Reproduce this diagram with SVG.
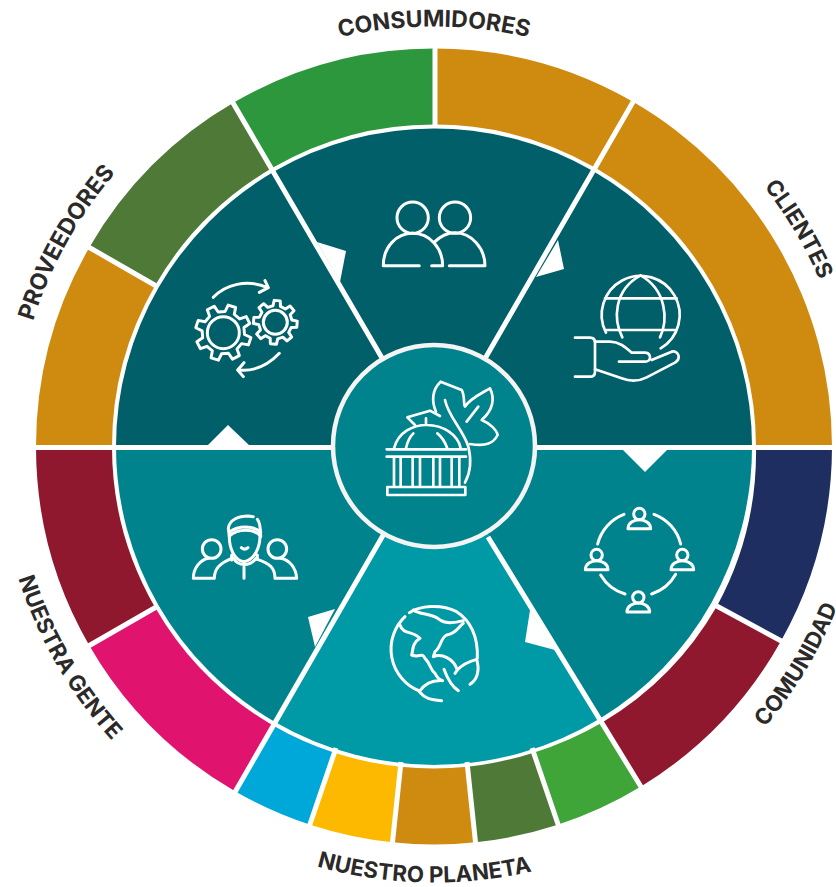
<svg xmlns="http://www.w3.org/2000/svg" width="836" height="887" viewBox="0 0 836 887">
<style>
.ic{fill:none;stroke:#fff;stroke-linecap:round;stroke-linejoin:round}
.sep{stroke:#fff;stroke-width:5;fill:none}
.lb{font-family:"Inter","Liberation Sans",sans-serif;font-weight:700;font-size:23px;fill:#2b2a29;text-anchor:middle}
.sm{font-size:22.3px}
</style>
<defs>
<path id="arcTop" d="M193.1 102.5A420 420 0 0 1 674.9 102.5"/>
<path id="arcBot" d="M183.9 803.6A436 436 0 0 0 684.1 803.6"/>
<path id="gear" d="M.74-.171L.99-.139L.99.139L.74.171L.644.402L.798.602L.602.798L.402.644L.171.74L.139.99L-.139.99L-.171.74L-.402.644L-.602.798L-.798.602L-.644.402L-.74.171L-.99.139L-.99-.139L-.74-.171L-.644-.402L-.798-.602L-.602-.798L-.402-.644L-.171-.74L-.139-.99L.139-.99L.171-.74L.402-.644L.602-.798L.798-.602L.644-.402Z"/>
<g id="person"><circle cx="0" cy="0" r="17"/><path d="M-34 44C-34 26-16 17 0 17C16 17 34 26 34 44Z"/></g>
</defs>
<rect width="836" height="887" fill="#fff"/>
<g id="ring">
<path fill="#2c973c" d="M235 101.8A398 398 0 0 1 435 48.5L435 124.5A322 322 0 0 0 273 167.6Z"/>
<path fill="#cf8a10" d="M435 48.5A398 398 0 0 1 633 101.8L595 167.6A322 322 0 0 0 435 124.5Z"/>
<path fill="#cf8a10" d="M633 101.8A398 398 0 0 1 832 446.5L756 446.5A322 322 0 0 0 595 167.6Z"/>
<path fill="#1f2e60" d="M832 446.5A398 398 0 0 1 781 641L717 606A322 322 0 0 0 756 446.5Z"/>
<path fill="#8f182f" d="M781 641A398 398 0 0 1 641 786.5L603 722A322 322 0 0 0 717 606Z"/>
<path fill="#40a539" d="M641 786.5A398 398 0 0 1 557 825L533.5 752.7A322 322 0 0 0 603 722Z"/>
<path fill="#4f7937" d="M557 825A398 398 0 0 1 475.6 842.3L467.7 766.7A322 322 0 0 0 533.5 752.7Z"/>
<path fill="#cf8a10" d="M475.6 842.3A398 398 0 0 1 392.4 842.3L400.3 766.7A322 322 0 0 0 467.7 766.7Z"/>
<path fill="#fdb900" d="M392.4 842.3A398 398 0 0 1 311 825L334.5 752.7A322 322 0 0 0 400.3 766.7Z"/>
<path fill="#00a7d9" d="M311 825A398 398 0 0 1 235 791.2L273 725.4A322 322 0 0 0 334.5 752.7Z"/>
<path fill="#e0146e" d="M235 791.2A398 398 0 0 1 89.3 645.5L155.1 607.5A322 322 0 0 0 273 725.4Z"/>
<path fill="#8f182f" d="M89.3 645.5A398 398 0 0 1 36 446.5L112 446.5A322 322 0 0 0 155.1 607.5Z"/>
<path fill="#cf8a10" d="M36 446.5A398 398 0 0 1 89.3 247.5L155.1 285.5A322 322 0 0 0 112 446.5Z"/>
<path fill="#4f7937" d="M89.3 247.5A398 398 0 0 1 235 101.8L273 167.6A322 322 0 0 0 155.1 285.5Z"/>
</g>
<g id="sector-consumidores"><path fill="#005f68" d="M434 446.5L275 171.1A318 318 0 0 1 593 171.1Z"/></g>
<g id="sector-clientes"><path fill="#005f68" d="M434 446.5L593 171.1A318 318 0 0 1 752 446.5Z"/></g>
<g id="sector-comunidad"><path fill="#00838c" d="M434 446.5L752 446.5A318 318 0 0 1 600 718.5Z"/></g>
<g id="sector-planeta"><path fill="#0099a6" d="M434 446.5L600 718.5A318 318 0 0 1 275 721.9Z"/></g>
<g id="sector-gente"><path fill="#00838c" d="M434 446.5L275 721.9A318 318 0 0 1 116 446.5Z"/></g>
<g id="sector-proveedores"><path fill="#005f68" d="M434 446.5L116 446.5A318 318 0 0 1 275 171.1Z"/></g>
<g id="connectors">
<path class="sep" d="M30 447.5H840"/>
<path class="sep" d="M434 447L231 99.5M434 447L635 98.5M434 447L233 795.5M488 537L643 790"/>
<path class="sep" d="M435 45V126"/>
<path class="sep" d="M785 643L713 604M85 648L158 606M85 245L158 287M560 830L532 748M476 847L467 762M392 847L401 762M308 830L336 748"/>
<path fill="#fff" d="M317 242L346 251L340 282Z"/>
<path fill="#fff" d="M558 240L564 269L536 277Z"/>
<path fill="#fff" d="M207 446L228 425L250 446Z"/>
<path fill="#fff" d="M622 449L645 472L668 449Z"/>
<path fill="#fff" d="M308 617L335 609L315 647Z"/>
<path fill="#fff" d="M530 610L525 642L555 650Z"/>
</g>
<g id="center">
<circle cx="434" cy="446" r="101" fill="#00838c" stroke="#f4f4f4" stroke-width="4.5"/>
<g class="ic" transform="translate(330 340) scale(.3333)" stroke-width="8">
<path d="M170 328H408M170 350H408"/>
<rect x="172" y="441" width="234" height="24"/>
<path d="M192 352V440M212 352V440M248 352V440M270 352V440M310 352V440M330 352V440M365 352V440M388 352V440"/>
<path d="M192 325C205 275 250 255 290 255C340 255 385 285 392 325M228 325C232 305 240 290 250 280M352 325C345 305 335 290 322 280M288 255V235"/>
<path d="M255 255L232 232L300 212L330 228"/>
<path d="M318 215C305 185 305 150 332 125L395 150C405 165 400 195 405 200C420 175 455 160 480 145C495 175 490 210 455 240C480 250 500 270 503 285C490 310 470 320 420 312"/>
<path d="M345 180C355 230 400 270 415 320C425 360 420 400 405 428M410 245L445 200"/>
</g>
</g>
<g id="icon-consumidores" class="ic" transform="translate(170 180) scale(.3333)" stroke-width="9">
<circle cx="728" cy="113" r="47"/><circle cx="855" cy="113" r="47"/>
<path d="M748 257H640C640 200 680 160 728 160C780 160 818 205 818 257H785"/>
<path d="M795 185C815 165 835 158 855 158C905 158 945 205 945 257H838"/>
</g>
<g id="icon-proveedores" class="ic" transform="translate(170 180) scale(.3333)" stroke-width="9">
<circle cx="160" cy="458" r="48"/><circle cx="316" cy="427" r="36"/>
<use href="#gear" transform="translate(160 458) rotate(18) scale(84)" stroke-width=".105"/>
<use href="#gear" transform="translate(316 427) rotate(5) scale(66)" stroke-width=".135"/>
<path d="M130 352C165 315 230 295 293 323M285 302L295 323L268 337"/>
<path d="M328 520C290 560 250 575 205 570M222 548L203 570L220 590"/>
</g>
<g id="icon-clientes" class="ic" transform="translate(550 260) scale(.3333)" stroke-width="8">
<path d="M168 218A117 117 0 1 1 332 265"/>
<path d="M165 115H380M170 210H375"/>
<path d="M272 46C190 90 190 180 217 232M272 46C350 90 355 180 330 232"/>
<path d="M75 233H120Q135 233 135 248V335Q135 350 120 350H75"/>
<path d="M135 245H180C210 245 230 265 245 278H285C305 280 305 305 285 305H207"/>
<path d="M305 300L365 275C385 270 395 295 375 308L290 352C265 365 240 365 215 355L135 328"/>
</g>
<g id="icon-comunidad" class="ic" transform="translate(560 490) scale(.3333)" stroke-width="9">
<use href="#person" x="238" y="72"/><use href="#person" x="110" y="195"/><use href="#person" x="367" y="195"/><use href="#person" x="235" y="322"/>
<path d="M192 73A127 127 0 0 0 113 162M282 73A127 127 0 0 1 362 162M122 255A127 127 0 0 0 195 312M275 312A127 127 0 0 0 347 253"/>
</g>
<g id="icon-gente" class="ic" transform="translate(170 500) scale(.3333)" stroke-width="9">
<circle cx="125" cy="147" r="28"/><circle cx="322" cy="147" r="28"/>
<path d="M115 175C90 180 70 205 70 235H133C133 205 150 190 185 175"/>
<path d="M332 175C360 180 378 205 380 235H315C315 205 300 190 262 178"/>
<path d="M178 110L175 85C178 60 205 48 235 48L250 50M262 58C272 70 272 90 272 110"/>
<path d="M178 108C205 85 250 85 272 108M178 96C205 76 250 76 272 96"/>
<path d="M178 110C178 140 190 180 222 185C255 180 270 140 270 108"/>
<path d="M214 143Q224 152 234 143M185 165V180M262 165V178M190 175C205 200 240 200 258 175M222 200V235"/>
</g>
<g id="icon-planeta" class="ic" transform="translate(370 590) scale(.3333)" stroke-width="9">
<path d="M105 80A135 135 0 0 0 148 303"/>
<path d="M118 68C150 48 210 40 260 65C300 90 325 140 322 205"/>
<path d="M130 60C150 75 190 70 210 90C225 100 250 100 280 92"/>
<path d="M90 105C100 135 125 120 150 145C125 160 130 180 125 195C150 205 155 185 165 205C185 225 180 240 195 250C200 260 210 270 218 272C190 270 165 280 148 305C165 325 180 330 215 332"/>
<path d="M280 100C265 110 260 130 230 135C210 145 215 170 195 185L190 200C215 190 250 205 262 240C275 225 295 215 320 208C330 240 322 270 300 283"/>
<path d="M222 238C232 265 245 290 265 302M262 240L255 250"/>
</g>
<g id="labels">
<text class="lb"><textPath href="#arcTop" startOffset="50%">CONSUMIDORES</textPath></text>
<text class="lb sm" transform="rotate(59.2 434 446.5)"><textPath href="#arcTop" startOffset="50%">CLIENTES</textPath></text>
<text class="lb" transform="rotate(-61 434 446.5)"><textPath href="#arcTop" startOffset="50%">PROVEEDORES</textPath></text>
<text class="lb sm" transform="rotate(1.3 434 446.5)"><textPath href="#arcBot" startOffset="50%">NUESTRO PLANETA</textPath></text>
<text class="lb sm" transform="rotate(-59 434 446.5)" dy="-2"><textPath href="#arcBot" startOffset="50%">COMUNIDAD</textPath></text>
<text class="lb sm" transform="rotate(60 434 446.5)"><textPath href="#arcBot" startOffset="50%">NUESTRA GENTE</textPath></text>
</g>
</svg>
